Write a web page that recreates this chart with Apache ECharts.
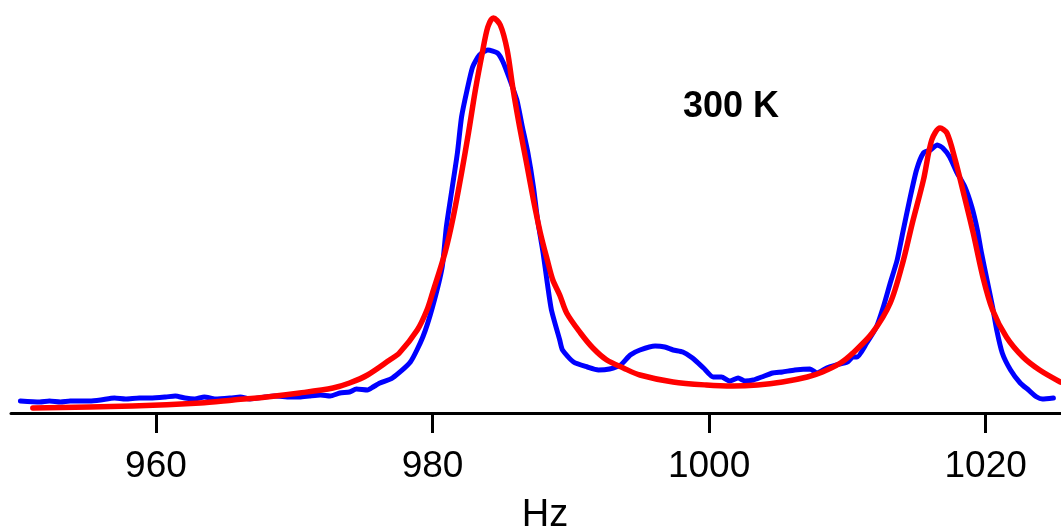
<!DOCTYPE html>
<html>
<head>
<meta charset="utf-8">
<script src="https://cdn.jsdelivr.net/npm/echarts@6/dist/echarts.min.js"></script>
<style>
  html, body { margin: 0; padding: 0; background: #fff; }
  #chart { width: 1061px; height: 532px; }
</style>
</head>
<body>
<div id="chart"></div>
<script>
// Frequency axis (Hz)
const xTicks = [960, 980, 1000, 1020];
const xName = 'Hz';
const annotation = '300 K';

// Measured spectrum (blue): [Hz, intensity a.u.]
const measured = [
  [950.2, 12], [951.6, 11], [952.3, 12], [953.1, 11], [953.8, 12], [955.2, 12],
  [956.0, 13], [957.0, 15], [957.8, 14], [958.8, 15], [959.6, 15], [960.7, 16],
  [961.4, 17], [962.1, 15], [962.8, 14], [963.5, 16], [964.3, 14], [965.4, 15],
  [966.1, 16], [966.8, 14], [967.9, 16], [968.6, 17], [969.7, 16], [970.4, 16],
  [971.1, 17], [971.9, 18], [972.6, 17], [973.3, 20], [974.0, 21], [974.5, 24],
  [975.3, 23], [975.7, 26], [976.2, 30], [977.1, 35], [978.4, 51], [979.3, 76],
  [980.0, 106], [980.7, 146], [981.0, 186], [981.4, 223], [981.8, 260], [982.1, 296],
  [982.5, 323], [982.9, 346], [983.4, 358], [984.0, 363], [984.7, 360], [985.1, 351],
  [985.6, 333], [986.1, 313], [986.5, 286], [986.9, 260], [987.3, 226], [987.6, 193],
  [988.0, 160], [988.3, 130], [988.6, 103], [989.2, 73], [989.4, 63], [990.2, 51],
  [991.2, 46], [992.0, 43], [992.8, 44], [993.6, 48], [994.3, 58], [995.0, 63],
  [996.1, 67], [996.8, 66], [997.4, 63], [998.1, 61], [998.8, 55], [999.6, 45],
  [1000.3, 36], [1000.9, 36], [1001.5, 32], [1002.1, 35], [1002.6, 32], [1003.2, 33],
  [1003.8, 36], [1004.6, 40], [1005.3, 41], [1006.2, 43], [1007.3, 44], [1007.8, 40],
  [1008.5, 45], [1009.2, 48], [1010.0, 51], [1010.4, 56], [1010.7, 56], [1011.4, 70],
  [1012.1, 86], [1012.6, 106], [1013.1, 130], [1013.6, 153], [1014.0, 180], [1014.5, 213],
  [1015.0, 243], [1015.5, 260], [1016.0, 263], [1016.5, 268], [1016.9, 265], [1017.4, 256],
  [1017.9, 241], [1018.5, 226], [1019.0, 206], [1019.4, 183], [1019.7, 160], [1020.1, 133],
  [1020.5, 106], [1020.8, 83], [1021.2, 60], [1021.8, 43], [1022.5, 30], [1023.1, 23],
  [1023.7, 16], [1024.1, 14], [1024.9, 15]
];

// Fitted spectrum (red): [Hz, intensity a.u.]
const fitted = [
  [951.1, 5], [958.3, 7], [963.2, 10], [965.6, 13], [968.0, 16], [970.4, 20],
  [972.8, 25], [974.0, 30], [975.3, 38], [976.9, 53], [977.6, 60], [978.9, 83],
  [979.6, 103], [980.0, 120], [980.9, 160], [981.5, 196], [982.1, 240], [982.6, 280],
  [983.1, 323], [983.6, 360], [984.0, 386], [984.4, 395], [984.9, 388], [985.4, 363],
  [985.8, 326], [986.3, 286], [986.8, 250], [987.3, 213], [987.8, 180], [988.3, 153],
  [988.7, 133], [989.2, 118], [989.7, 100], [990.7, 80], [991.6, 65], [992.6, 53],
  [993.8, 45], [995.0, 38], [997.4, 31], [999.8, 28], [1001.7, 27], [1003.5, 28],
  [1005.3, 31], [1007.1, 36], [1008.2, 41], [1009.5, 50], [1010.4, 60], [1011.8, 80],
  [1013.1, 110], [1014.0, 150], [1014.7, 190], [1015.5, 233], [1016.1, 273], [1016.7, 285],
  [1017.2, 280], [1017.8, 253], [1018.4, 220], [1019.1, 180], [1019.8, 136], [1020.5, 103],
  [1021.5, 76], [1022.7, 56], [1023.9, 43], [1025.4, 31]
];

const chart = echarts.init(document.getElementById('chart'), null, { renderer: 'canvas' });
chart.setOption({
  animation: false,
  backgroundColor: '#ffffff',
  grid: { left: 11, right: -18, top: 0, bottom: 119, containLabel: false, outerBoundsMode: 'none' },
  xAxis: {
    type: 'value',
    min: 949.52,
    max: 1026.75,
    name: xName,
    nameLocation: 'middle',
    nameGap: 84,
    nameTextStyle: { fontFamily: 'Liberation Sans', fontSize: 38, color: '#000' },
    axisLine: { show: true, onZero: false, lineStyle: { color: '#000', width: 3 } },
    axisTick: { show: true, customValues: xTicks, length: 20, lineStyle: { color: '#000', width: 3 } },
    axisLabel: {
      customValues: xTicks, margin: 35, fontFamily: 'Liberation Sans', fontSize: 37, color: '#000',
      formatter: function (v) { return String(v); }
    },
    splitLine: { show: false }
  },
  yAxis: {
    type: 'value',
    min: 0,
    max: 413,
    show: false
  },
  series: [
    {
      name: 'measured',
      type: 'line',
      data: measured,
      showSymbol: false,
      smooth: 0.2,
      lineStyle: { color: '#0000ff', width: 5, join: 'round', cap: 'round' },
      z: 2
    },
    {
      name: 'fit',
      type: 'line',
      data: fitted,
      showSymbol: false,
      smooth: 0.3,
      lineStyle: { color: '#ff0000', width: 5.5, join: 'round', cap: 'round' },
      z: 3
    }
  ],
  graphic: [
    {
      type: 'text',
      left: 683,
      top: 89,
      style: {
        text: annotation,
        fontFamily: 'Liberation Sans',
        fontWeight: 'bold',
        fontSize: 36,
        fill: '#000'
      }
    }
  ]
});
</script>
</body>
</html>
